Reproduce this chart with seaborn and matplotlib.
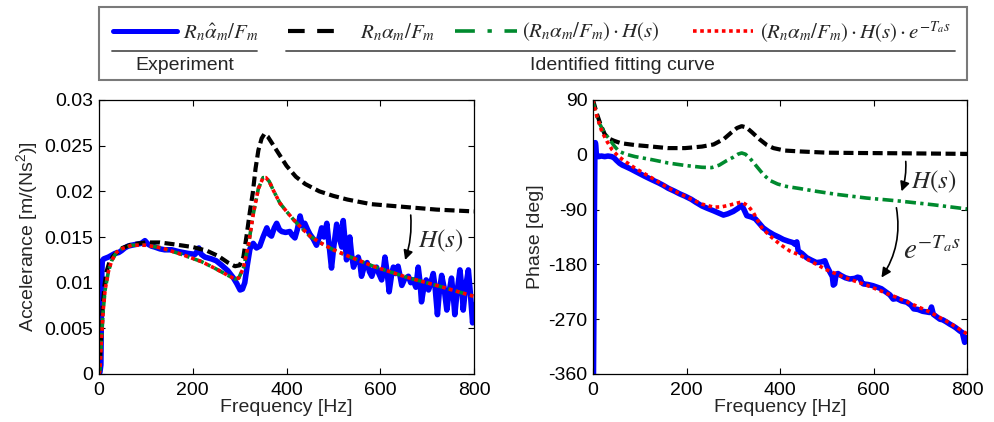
import numpy as np
import pandas as pd
import seaborn as sns
import matplotlib
matplotlib.use("Agg")
import matplotlib.pyplot as plt
from matplotlib.lines import Line2D
from matplotlib.patches import Rectangle
from matplotlib.transforms import Affine2D

# ---------------- data ----------------
# Magnitude: experiment (blue)
mag_exp_f = [0, 2, 4, 5, 6, 7, 10, 15, 20, 27, 34, 42, 48, 55, 62, 70, 80, 90, 98, 105,
             112, 119, 130, 140, 155, 170, 190, 205, 210, 213, 218, 226, 240, 250, 262, 275,
             287, 294, 301, 306, 311, 316, 322, 329, 336, 343, 350, 358, 363, 368, 374, 379,
             385, 390, 398, 407, 412, 418, 423, 429, 434, 439, 445, 450, 457, 464, 470, 475,
             480, 486, 491, 496, 501, 507, 512, 518, 521, 525, 528, 532, 535, 539, 543, 548,
             553, 557, 560, 566, 572, 577, 582, 587, 592, 597, 603, 607, 610, 615, 619, 624,
             628, 633, 638, 642, 646, 652, 660, 665, 670, 676, 681, 685, 688, 693, 698, 703,
             708, 713, 717, 722, 726, 731, 736, 742, 747, 752, 756, 759, 764, 770, 774, 777,
             782, 788, 792, 797, 800]
mag_exp_v = [0.0000, 0.0002, 0.0010, 0.0060, 0.0110, 0.0124, 0.0126, 0.0127, 0.0128, 0.0130,
             0.0132, 0.0133, 0.0135, 0.0138, 0.0140, 0.0141, 0.0142, 0.0143, 0.0146, 0.0142,
             0.0140, 0.0139, 0.0137, 0.0136, 0.0136, 0.0134, 0.0132, 0.0131, 0.0135, 0.0138,
             0.0131, 0.0128, 0.0126, 0.0124, 0.0119, 0.0113, 0.0105, 0.0099, 0.0092, 0.0093,
             0.0100, 0.0118, 0.0137, 0.0143, 0.0138, 0.0140, 0.0150, 0.0160, 0.0153, 0.0151,
             0.0160, 0.0165, 0.0158, 0.0156, 0.0155, 0.0156, 0.0152, 0.0149, 0.0158, 0.0173,
             0.0162, 0.0165, 0.0158, 0.0153, 0.0148, 0.0141, 0.0150, 0.0160, 0.0150, 0.0165,
             0.0140, 0.0116, 0.0140, 0.0164, 0.0150, 0.0139, 0.0168, 0.0145, 0.0125, 0.0140,
             0.0150, 0.0130, 0.0117, 0.0125, 0.0128, 0.0120, 0.0107, 0.0118, 0.0122, 0.0112,
             0.0107, 0.0115, 0.0117, 0.0110, 0.0103, 0.0115, 0.0128, 0.0110, 0.0090, 0.0108,
             0.0117, 0.0110, 0.0118, 0.0108, 0.0097, 0.0104, 0.0107, 0.0100, 0.0103, 0.0095,
             0.0117, 0.0100, 0.0079, 0.0095, 0.0103, 0.0092, 0.0100, 0.0110, 0.0095, 0.0065,
             0.0090, 0.0108, 0.0095, 0.0070, 0.0090, 0.0105, 0.0085, 0.0065, 0.0090, 0.0114,
             0.0095, 0.0070, 0.0095, 0.0114, 0.0090, 0.0056, 0.0075]

# Magnitude: identified model R_n a_m / F_m (black)
mag_model_f = [0, 2, 5, 8, 12, 16, 22, 30, 40, 50, 70, 100, 130, 160, 200, 230, 255, 275,
               290, 300, 308, 315, 322, 328, 334, 340, 347, 353, 360, 370, 380, 400, 420,
               440, 470, 500, 530, 580, 650, 720, 800]
mag_model_v = [0.0, 0.0015, 0.0045, 0.0075, 0.0098, 0.0112, 0.0122, 0.0129, 0.0134, 0.0138,
               0.0142, 0.0144, 0.0144, 0.0142, 0.0139, 0.0135, 0.0129, 0.0122, 0.0118, 0.0119,
               0.0128, 0.0152, 0.0178, 0.0198, 0.0225, 0.0245, 0.0258, 0.0263, 0.0260, 0.0252,
               0.0244, 0.0228, 0.0216, 0.0208, 0.0200, 0.0195, 0.0191, 0.0186, 0.0183, 0.0180,
               0.0178]

# Magnitude: model * H(s)  (same for * e^{-Ta s})
mag_h_f = [0, 2, 5, 9, 13, 20, 27, 37, 48, 70, 100, 134, 176, 219, 250, 275, 290, 298, 308,
           319, 329, 340, 350, 356, 363, 372, 386, 400, 415, 430, 450, 471, 500, 532, 585,
           656, 727, 800]
mag_h_v = [0.0, 0.0004, 0.0036, 0.0070, 0.0092, 0.0112, 0.0124, 0.0133, 0.0137, 0.0141,
           0.0141, 0.0138, 0.0131, 0.0123, 0.0115, 0.0108, 0.0104, 0.0105, 0.0116, 0.0142,
           0.0175, 0.0203, 0.0215, 0.0215, 0.0211, 0.0201, 0.0187, 0.0178, 0.0169, 0.0161,
           0.0151, 0.0144, 0.0136, 0.0129, 0.0118, 0.0106, 0.0096, 0.0085]

# Phase: experiment (blue)
ph_exp_f = [0, 1, 2, 3, 4, 5, 6, 7, 9, 12, 18, 25, 32, 40, 45, 50, 57, 63, 69, 80, 90, 100,
            110, 126, 140, 150, 161, 175, 185, 197, 210, 220, 233, 245, 258, 270, 279, 288,
            300, 310, 318, 323, 329, 338, 347, 355, 364, 375, 386, 397, 407, 418, 427, 432,
            436, 439, 447, 457, 467, 478, 488, 496, 501, 507, 512, 514, 517, 520, 524, 530,
            540, 549, 560, 566, 571, 575, 578, 588, 599, 610, 617, 626, 635, 642, 650, 660,
            671, 680, 686, 695, 705, 713, 720, 724, 728, 735, 742, 748, 755, 763, 770, 776,
            784, 790, 795, 798, 800]
ph_exp_v = [-360, -360, -250, -100, 5, 20, 15, 2, -2, -3, -2, -3, -2, -3, -5, -9, -14, -17,
            -19, -23, -27, -31, -35, -41, -46, -50, -55, -60, -64, -68, -73, -78, -84, -88,
            -92, -96, -99, -97, -93, -88, -83, -90, -100, -102, -105, -112, -120, -126, -131,
            -135, -139, -142, -144, -147, -143, -158, -162, -169, -173, -177, -176, -174, -184,
            -193, -200, -214, -212, -196, -195, -198, -202, -204, -203, -201, -202, -210, -212,
            -213, -215, -218, -220, -225, -230, -237, -236, -240, -242, -247, -253, -254, -257,
            -258, -259, -250, -262, -266, -270, -271, -274, -278, -281, -284, -289, -292, -308,
            -303, -300]

# Phase: model (black)
ph_model_f = [0, 8, 16, 25, 33, 45, 60, 90, 126, 160, 197, 233, 258, 280, 295, 308, 318,
              328, 340, 357, 372, 386, 410, 443, 500, 560, 656, 730, 800]
ph_model_v = [90, 68, 50, 34, 27, 23, 19, 16, 13.5, 11, 11, 13.5, 17, 26, 36, 44, 47, 45,
              37, 25, 16, 11, 7, 5.5, 3.5, 3, 2.5, 2, 1.5]

# Phase: model * H(s) (green)
ph_h_f = [0, 1.5, 12, 26, 33, 45, 55, 70, 90, 126, 161, 197, 233, 254, 270, 285, 300, 310,
          318, 326, 336, 350, 364, 378, 395, 414, 443, 478, 521, 585, 656, 727, 800]
ph_h_v = [90, 82, 54, 34, 28, 15, 6, 1, -3, -8, -13.5, -17.5, -20.5, -21, -17, -10, -4, 1,
          3, 1, -6, -19, -32, -42, -48, -52, -55.5, -60, -65, -71, -76, -82, -89]

# Phase: model * H(s) * e^{-Ta s} (red)
ph_hd_f = [0, 1.5, 8.5, 19, 30, 41, 55, 69, 90, 126, 161, 197, 233, 258, 275, 290, 305, 318,
           332, 343, 361, 379, 400, 421, 443, 471, 500, 540, 585, 649, 720, 760, 800]
ph_hd_v = [90, 82, 63, 38, 22, 8, -3, -11, -22, -38, -54.5, -68, -81, -86, -85.5, -83, -80,
           -77.5, -84, -95, -120, -133.5, -147, -158, -165, -177, -189, -202, -214, -234, -258,
           -275, -294]

mag_yticks = [0, 0.005, 0.01, 0.015, 0.02, 0.025, 0.03]
mag_yticklabels = ["0", "0.005", "0.01", "0.015", "0.02", "0.025", "0.03"]
ph_yticks = [-360, -270, -180, -90, 0, 90]
ph_yticklabels = ["-360", "-270", "-180", "-90", "0", "90"]
freq_ticks = [0, 200, 400, 600, 800]
freq_ticklabels = ["0", "200", "400", "600", "800"]

legend_labels = [r"$R_n\hat{\alpha}_m/F_m$", r"$R_n\alpha_m/F_m$",
                 r"$(R_n\alpha_m/F_m)\cdot H(s)$",
                 r"$(R_n\alpha_m/F_m)\cdot H(s)\cdot e^{-T_a s}$"]

# ---------------- style ----------------
sns.set_theme(style="white")
plt.rcParams["font.family"] = ["Liberation Sans", "DejaVu Sans"]
plt.rcParams["mathtext.fontset"] = "custom"
plt.rcParams["mathtext.rm"] = "Liberation Sans"
plt.rcParams["mathtext.it"] = "Liberation Sans:italic"
plt.rcParams["axes.unicode_minus"] = False

BLUE = "#0000ff"
BLACK = "#000000"
GREEN = "#008a2e"
RED = "#ff0000"

W, H = 994, 422
fig = plt.figure(figsize=(W / 100, H / 100), dpi=100)
fig.patch.set_facecolor("white")

def px_axes(x0, y0, x1, y1):
    return fig.add_axes([x0 / W, 1 - y1 / H, (x1 - x0) / W, (y1 - y0) / H])

ax1 = px_axes(99, 100, 474, 374)
ax2 = px_axes(593, 100, 967, 374)

TICK_FS = 14

def style_axes(ax):
    for s in ax.spines.values():
        s.set_color("black")
        s.set_linewidth(0.9)
    ax.tick_params(axis="both", which="both", direction="in", length=4, width=0.8,
                   top=True, right=True, bottom=True, left=True, labelsize=TICK_FS,
                   colors="black", pad=4)
    ax.tick_params(axis="x", pad=6)
    ax.set_facecolor("white")
    ax.grid(False)

# ---- magnitude ----
d = pd.DataFrame({"f": mag_exp_f, "v": mag_exp_v})
sns.lineplot(data=d, x="f", y="v", ax=ax1, color=BLUE, lw=4.0, estimator=None, sort=False,
             solid_joinstyle="round", solid_capstyle="round")
d = pd.DataFrame({"f": mag_model_f, "v": mag_model_v})
sns.lineplot(data=d, x="f", y="v", ax=ax1, color=BLACK, lw=3.0, estimator=None, sort=False,
             linestyle=(0, (2.4, 1.1)))
d = pd.DataFrame({"f": mag_h_f, "v": mag_h_v})
sns.lineplot(data=d, x="f", y="v", ax=ax1, color=GREEN, lw=2.6, estimator=None, sort=False,
             linestyle=(0, (3.0, 1.2, 0.9, 1.2)))
sns.lineplot(data=d, x="f", y="v", ax=ax1, color=RED, lw=2.6, estimator=None, sort=False,
             linestyle=(0, (1.0, 1.0)))

ax1.set_xlim(0, 800)
ax1.set_ylim(0, 0.03)
ax1.set_xticks(freq_ticks)
ax1.set_xticklabels(freq_ticklabels)
ax1.set_yticks(mag_yticks)
ax1.set_yticklabels(mag_yticklabels)
ax1.set_xlabel("Frequency [Hz]", fontsize=TICK_FS, labelpad=0)
ax1.set_ylabel(r"Accelerance [m/(Ns$^2$)]", fontsize=TICK_FS, labelpad=3)
style_axes(ax1)

ax1.annotate("", xy=(653, 0.01248), xytext=(665, 0.0174),
             arrowprops=dict(arrowstyle="-|>", color="black", lw=1.2, mutation_scale=14,
                             shrinkA=0, shrinkB=0, connectionstyle="arc3,rad=-0.1"))
ax1.text(681, 0.01456, r"$H(s)$", fontsize=18, va="center", ha="left", math_fontfamily="stix")

# ---- phase ----
d = pd.DataFrame({"f": ph_exp_f, "v": ph_exp_v})
sns.lineplot(data=d, x="f", y="v", ax=ax2, color=BLUE, lw=4.0, estimator=None, sort=False,
             solid_joinstyle="round", solid_capstyle="round")
d = pd.DataFrame({"f": ph_model_f, "v": ph_model_v})
sns.lineplot(data=d, x="f", y="v", ax=ax2, color=BLACK, lw=3.0, estimator=None, sort=False,
             linestyle=(0, (2.4, 1.1)))
d = pd.DataFrame({"f": ph_h_f, "v": ph_h_v})
sns.lineplot(data=d, x="f", y="v", ax=ax2, color=GREEN, lw=2.6, estimator=None, sort=False,
             linestyle=(0, (3.0, 1.2, 0.9, 1.2)))
d = pd.DataFrame({"f": ph_hd_f, "v": ph_hd_v})
sns.lineplot(data=d, x="f", y="v", ax=ax2, color=RED, lw=2.6, estimator=None, sort=False,
             linestyle=(0, (1.0, 1.0)))

ax2.set_xlim(0, 800)
ax2.set_ylim(-360, 90)
ax2.set_xticks(freq_ticks)
ax2.set_xticklabels(freq_ticklabels)
ax2.set_yticks(ph_yticks)
ax2.set_yticklabels(ph_yticklabels)
ax2.set_xlabel("Frequency [Hz]", fontsize=TICK_FS, labelpad=0)
ax2.set_ylabel("Phase [deg]", fontsize=TICK_FS, labelpad=3)
style_axes(ax2)

ax2.annotate("", xy=(660, -60), xytext=(669, -10.9),
             arrowprops=dict(arrowstyle="-|>", color="black", lw=1.2, mutation_scale=14,
                             shrinkA=0, shrinkB=0, connectionstyle="arc3,rad=-0.1"))
ax2.text(681, -45, r"$H(s)$", fontsize=18, va="center", ha="left", math_fontfamily="stix")
ax2.annotate("", xy=(617, -201.6), xytext=(649, -87),
             arrowprops=dict(arrowstyle="-|>", color="black", lw=1.2, mutation_scale=14,
                             shrinkA=0, shrinkB=0, connectionstyle="arc3,rad=-0.2"))
ax2.text(663, -158, r"$e^{-T_a s}$", fontsize=21, va="center", ha="left",
         math_fontfamily="stix")

for ax in (ax1, ax2):
    leg = ax.get_legend()
    if leg is not None:
        leg.remove()

# ---------------- custom legend box (figure pixel coordinates) ----------------
T = Affine2D().scale(1 / W, -1 / H).translate(0, 1) + fig.transFigure
fig.add_artist(Rectangle((99, 7), 868, 73, transform=T, fill=False, edgecolor="#7a7a7a",
                         lw=1.5))
ly = 31
handles = [
    ((113, 177), BLUE, 3.6, "-", 183),
    ((288, 345), BLACK, 3.0, (0, (4.0, 3.0)), 360),
    ((455, 517), GREEN, 2.6, (0, (5.5, 3.5, 1.2, 3.5)), 522),
    ((693, 753), RED, 2.6, (0, (1.0, 1.0)), 760),
]
for (x0, x1), col, lw, ls, tx in handles:
    fig.add_artist(Line2D([x0, x1], [ly, ly], transform=T, color=col, lw=lw, linestyle=ls))
for (_, _, _, _, tx), lab in zip(handles, legend_labels):
    fig.text(tx, ly + 1, lab, transform=T, fontsize=15, va="center", ha="left",
             math_fontfamily="stix")

fig.add_artist(Line2D([112, 257], [51, 51], transform=T, color="#555555", lw=1.3))
fig.add_artist(Line2D([286, 955], [51, 51], transform=T, color="#555555", lw=1.3))
fig.text(185, 65, "Experiment", transform=T, fontsize=14, ha="center", va="center")
fig.text(622, 65, "Identified fitting curve", transform=T, fontsize=14, ha="center",
         va="center")

fig.savefig("out.png", dpi=100, facecolor="white")
